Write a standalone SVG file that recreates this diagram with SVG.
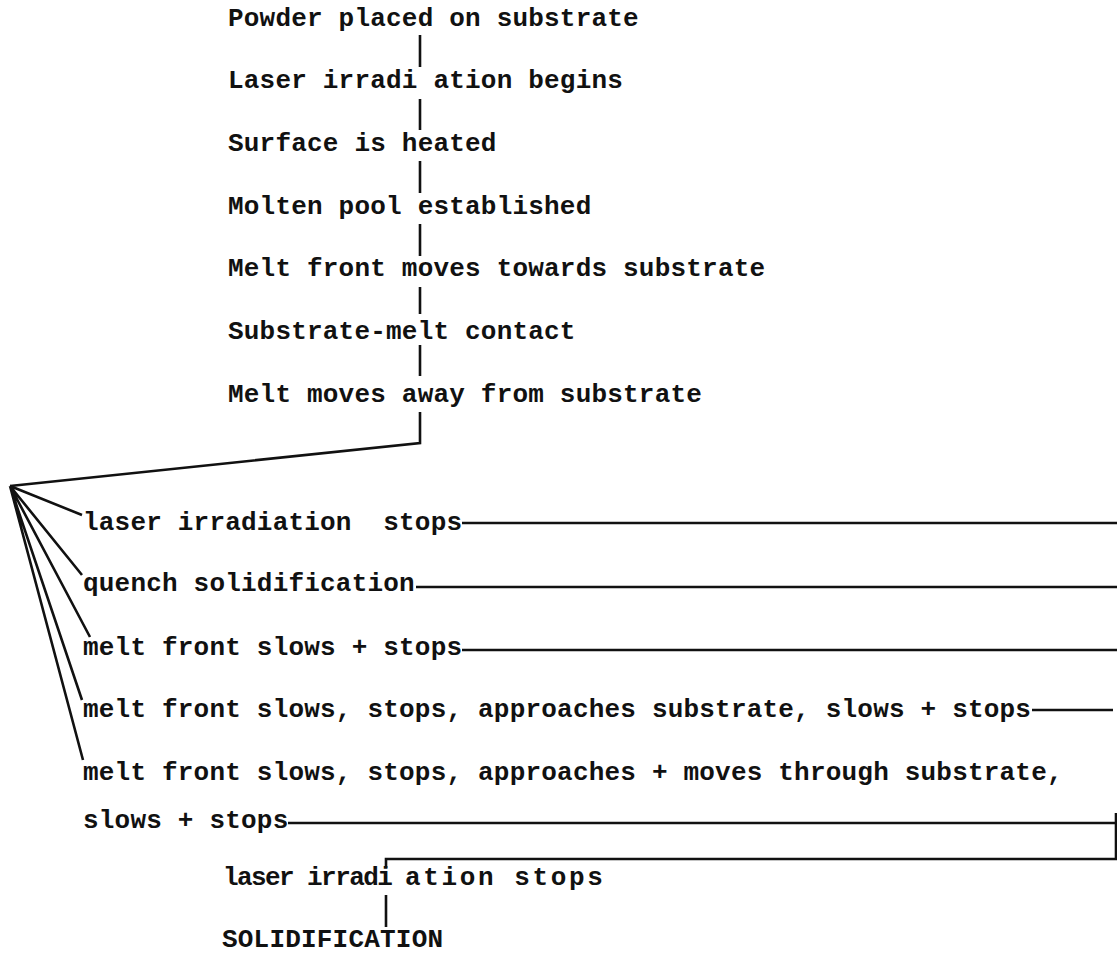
<svg xmlns="http://www.w3.org/2000/svg" width="1117" height="956" viewBox="0 0 1117 956">
<style>
text{font-family:"Liberation Mono","Courier New",monospace;font-size:26px;font-weight:bold;letter-spacing:0.2px;fill:#111}
.c{stroke:#111;stroke-width:2.6;fill:none;stroke-linecap:butt;stroke-linejoin:miter}
</style>
<rect width="1117" height="956" fill="#fff"/>
<g id="connectors">
<path class="c" d="M420,35V67M420,99V130M420,161V193M420,224V256M420,287V314M420,345V376"/>
<path class="c" d="M420,412V443L10,486"/>
<path class="c" d="M10,486L82,515M10,486L82,575M10,486L90,637M10,486L82,700M10,486L83,760"/>
<path class="c" d="M462,523H1117M416,587H1117M462,650H1117M1032,710H1113M288,823H1116"/>
<path class="c" d="M1116,813V859H386V868M386,895V927"/>
</g>
<g id="n1"><text x="228" y="26">Powder placed on substrate</text></g>
<g id="n2"><text x="228" y="88">Laser irradi ation begins</text></g>
<g id="n3"><text x="228" y="151">Surface is heated</text></g>
<g id="n4"><text x="228" y="214">Molten pool established</text></g>
<g id="n5"><text x="228" y="276">Melt front moves towards substrate</text></g>
<g id="n6"><text x="228" y="339">Substrate-melt contact</text></g>
<g id="n7"><text x="228" y="402">Melt moves away from substrate</text></g>
<g id="b1"><text x="83" y="530" xml:space="preserve">laser irradiation  stops</text></g>
<g id="b2"><text x="83" y="591">quench solidification</text></g>
<g id="b3"><text x="83" y="655">melt front slows + stops</text></g>
<g id="b4"><text x="83" y="717">melt front slows, stops, approaches substrate, slows + stops</text></g>
<g id="b5"><text x="83" y="780">melt front slows, stops, approaches + moves through substrate,</text><text x="83" y="828">slows + stops</text></g>
<g id="n8"><text x="223" y="885"><tspan textLength="170" lengthAdjust="spacing">laser irradi</tspan> <tspan x="405" textLength="198" lengthAdjust="spacing">ation stops</tspan></text></g>
<g id="n9"><text x="222" y="947">SOLIDIFICATION</text></g>
</svg>
